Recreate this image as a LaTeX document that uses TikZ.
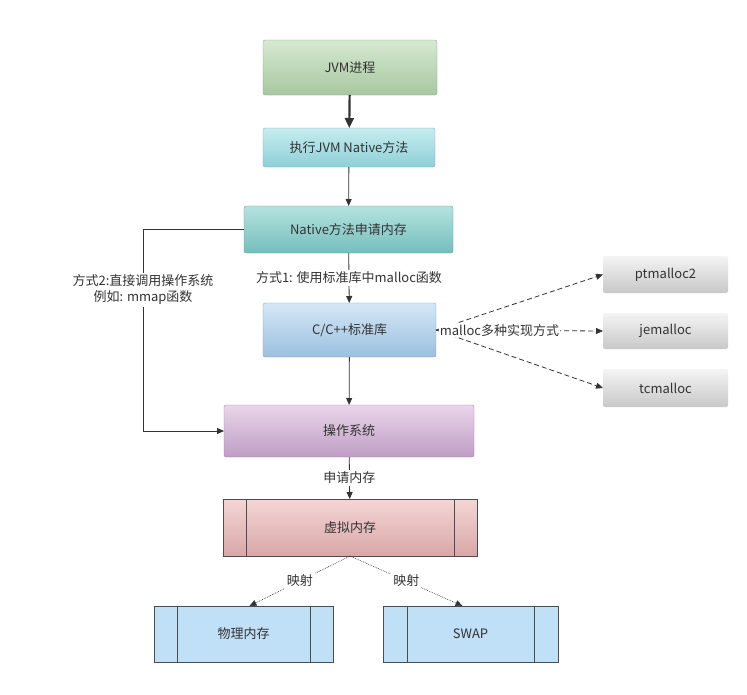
\documentclass[tikz,border=0pt]{standalone}
\usepackage{fontspec}
\setmainfont{Noto Sans CJK SC}
\usepackage{xcolor}
\usetikzlibrary{arrows.meta}
\definecolor{ink}{HTML}{333333}
\definecolor{jvmtop}{HTML}{D6E9D1}
\definecolor{jvmbot}{HTML}{A8C7A0}
\definecolor{exectop}{HTML}{C6EDF0}
\definecolor{execbot}{HTML}{8ECFD7}
\definecolor{nattop}{HTML}{B4E3DF}
\definecolor{natbot}{HTML}{74BEBC}
\definecolor{libtop}{HTML}{D4E7F6}
\definecolor{libbot}{HTML}{9CC0DF}
\definecolor{ostop}{HTML}{EAD5EB}
\definecolor{osbot}{HTML}{BF9EC4}
\definecolor{vmtop}{HTML}{F5D5D5}
\definecolor{vmbot}{HTML}{D8A7A7}
\definecolor{memfill}{HTML}{C0E0F8}
\definecolor{graytop}{HTML}{F4F4F4}
\definecolor{graybot}{HTML}{C8C8C8}

\begin{document}
\begin{tikzpicture}[
    x=1pt, y=-1pt,
    >={Triangle[length=7pt, width=6pt]},
    every node/.style={text=ink, font=\fontsize{13}{16}\selectfont},
    box/.style 2 args={top color=#1, bottom color=#2, draw=#2!80!black, line width=0.3pt, rounded corners=2pt, inner sep=0pt, outer sep=0pt},
    proc/.style={draw=#1, line width=0.8pt, inner sep=0pt, outer sep=0pt},
    conn/.style={draw=ink, line width=0.8pt},
    lbl/.style={fill=white, inner sep=2pt, align=center},
]
    \useasboundingbox (0,0) rectangle (747,694);

    % Main column
    \node[box={jvmtop}{jvmbot}, minimum width=174pt, minimum height=55pt] (jvm) at (350, 67.5) {JVM进程};
    \node[box={exectop}{execbot}, minimum width=172pt, minimum height=39pt] (exec) at (349, 147.5) {执行JVM Native方法};
    \node[box={nattop}{natbot}, minimum width=209pt, minimum height=47pt] (native) at (348.5, 229.5) {Native方法申请内存};
    \node[box={libtop}{libbot}, minimum width=173pt, minimum height=54pt] (clib) at (349.5, 330) {C/C++标准库};
    \node[box={ostop}{osbot}, minimum width=250pt, minimum height=52pt] (os) at (349, 431) {操作系统};

    % Memory boxes
    \node[proc=black!70, top color=vmtop, bottom color=vmbot, minimum width=254pt, minimum height=57pt] (vm) at (350, 527.5) {虚拟内存};
    \node[proc=black!70, fill=memfill, minimum width=179pt, minimum height=56pt] (phys) at (243.5, 634) {物理内存};
    \node[proc=black!70, fill=memfill, minimum width=175pt, minimum height=56pt] (swap) at (470.5, 634) {SWAP};
    \foreach \n/\d in {vm/23, phys/23, swap/24} {
        \draw[black!70, line width=0.8pt] ([xshift=\d]\n.north west) -- ([xshift=\d]\n.south west);
        \draw[black!70, line width=0.8pt] ([xshift=-\d]\n.north east) -- ([xshift=-\d]\n.south east);
    }

    % malloc implementations
    \node[box={graytop}{graybot}, draw=none, minimum width=125pt, minimum height=37pt] (ptm) at (665.5, 274.5) {ptmalloc2};
    \node[box={graytop}{graybot}, draw=none, minimum width=125pt, minimum height=36pt] (jem) at (665.5, 331) {jemalloc};
    \node[box={graytop}{graybot}, draw=none, minimum width=125pt, minimum height=38pt] (tcm) at (665.5, 388) {tcmalloc};

    % Arrows
    \draw[conn, -{Triangle[length=10pt, width=9pt]}, line width=2.2pt] (jvm) -- (exec);
    \draw[conn, ->] (exec) -- (native);
    \draw[conn, ->] (native) -- (clib) node[lbl, midway] {方式1: 使用标准库中malloc函数};
    \draw[conn, ->] (clib) -- (os);
    \draw[conn, ->] (os) -- (vm) node[lbl, midway] {申请内存};
    \draw[conn, ->] (native.west) -- ++(-101,0) |- (os.west) node[lbl, pos=0.15] {方式2:直接调用操作系统\\例如: mmap函数};

    % Dashed to implementations
    \draw[conn, ->, dashed, dash pattern=on 5pt off 3pt] (clib.east) -- (ptm.west);
    \draw[conn, ->, dashed, dash pattern=on 5pt off 3pt] (clib.east) -- (tcm.west);
    \draw[conn, ->, dashed, dash pattern=on 5pt off 3pt] (clib.east) -- (jem.west) node[lbl, pos=0.38, inner sep=1pt] {malloc多种实现方式};

    % Mapping
    \draw[conn, ->, densely dotted, line width=0.6pt] (vm.south) -- ([xshift=6]phys.north) node[lbl, midway] {映射};
    \draw[conn, ->, densely dotted, line width=0.6pt] (vm.south) -- ([xshift=-8]swap.north) node[lbl, midway] {映射};
\end{tikzpicture}
\end{document}
